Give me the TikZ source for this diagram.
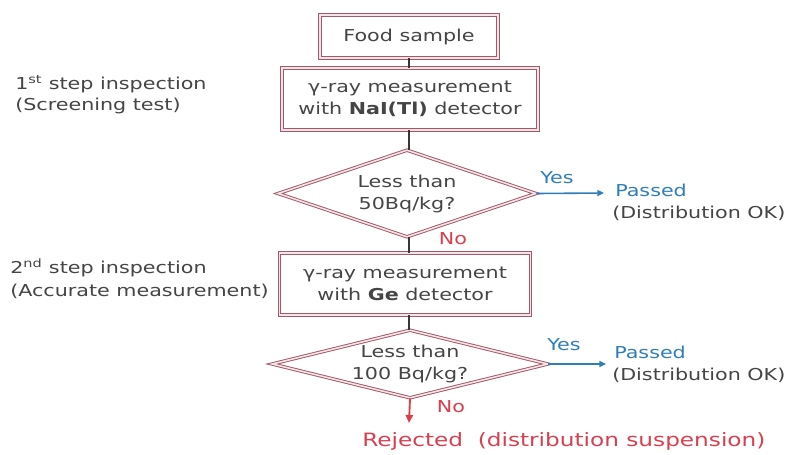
\documentclass[tikz,border=0pt]{standalone}
\usepackage{fontspec}
\setmainfont{DejaVu Sans}[FakeStretch=1.26]
\usetikzlibrary{shapes.geometric,arrows.meta}
\definecolor{frame}{HTML}{A45868}
\definecolor{frameIn}{HTML}{F3E4E7}
\definecolor{txt}{HTML}{454545}
\definecolor{blu}{HTML}{2F7EB8}
\definecolor{rd}{HTML}{D8404F}
\begin{document}
\begin{tikzpicture}[x=0.75pt,y=-0.75pt,
  every node/.style={font=\fontsize{12.3}{16.5}\selectfont, text=txt},
  boxstyle/.style={draw=frame, double=frameIn, double distance=1.4pt, line width=0.7pt, fill=white, align=center, inner sep=0pt},
  decision/.style={diamond, draw=frame, double=frameIn, double distance=1.2pt, line width=0.7pt, fill=white, align=center, inner sep=0pt},
  conn/.style={draw=txt!80!black, line width=0.8pt},
  yesarrow/.style={draw=blu, line width=1.2pt, -{Triangle[length=5pt,width=4.5pt]}},
  noarrow/.style={draw=rd, line width=1.4pt, -{Triangle[length=6pt,width=5.5pt]}},
  side/.style={anchor=west, align=left, inner sep=0pt}
]
\useasboundingbox (0,0) rectangle (793,454);
\fill[white] (0,0) rectangle (793,454);

\node[boxstyle, minimum width=133.5pt, minimum height=32.25pt] (food) at (409,36.5) {Food sample};
\node[boxstyle, minimum width=192pt, minimum height=46.5pt] (nai) at (410,99) {γ-ray measurement\\with \textbf{NaI(Tl)} detector};
\node[decision, aspect=3, minimum width=193.5pt, minimum height=65.25pt] (d1) at (407,193.5) {Less than\\50Bq/kg?};
\node[boxstyle, minimum width=188.25pt, minimum height=46.5pt] (ge) at (405,284) {γ-ray measurement\\with \textbf{Ge} detector};
\node[decision, aspect=4.2, minimum width=207pt, minimum height=51pt] (d2) at (410,364) {Less than\\100 Bq/kg?};

\draw[conn] (409,0 |- food.south) -- (409,0 |- nai.north);
\draw[conn] (409,0 |- nai.south) -- (409,0 |- d1.north);
\draw[conn] (409,0 |- d1.south) -- (409,0 |- ge.north);
\draw[conn] (409,0 |- ge.south) -- (409,0 |- d2.north);

% outcomes
\node[side, text=blu] (p1) at (615,190) {Passed};
\node[side] (p1b) at (612,213) {(Distribution OK)};
\node[side, text=blu] (p2) at (614,352) {Passed};
\node[side] (p2b) at (612,375) {(Distribution OK)};
\coordinate (p1tip) at (604,193);
\coordinate (p2tip) at (606,364);
\draw[yesarrow] (d1.east) -- (p1tip);
\draw[yesarrow] (d2.east) -- (p2tip);
\node[text=blu] (y1) at (557,178) {Yes};
\node[text=blu] (y2) at (564,345) {Yes};

\node[text=rd] (n1) at (453,239) {No};
\coordinate (rtip) at (409,423);
\draw[noarrow] (d2.south) -- (rtip);
\node[text=rd] (n2) at (451,407) {No};
\node[side, text=rd, font=\fontsize{13.8}{16.5}\selectfont] (rej) at (362,441) {Rejected\ \ (distribution suspension)};

% side labels
\node[side] (s1) at (15,84) {1\textsuperscript{st} step inspection};
\node[side] (s1b) at (15,106) {(Screening test)};
\node[side] (s2) at (10,268) {2\textsuperscript{nd} step inspection};
\node[side] (s2b) at (10,291) {(Accurate measurement)};
\end{tikzpicture}
\end{document}
